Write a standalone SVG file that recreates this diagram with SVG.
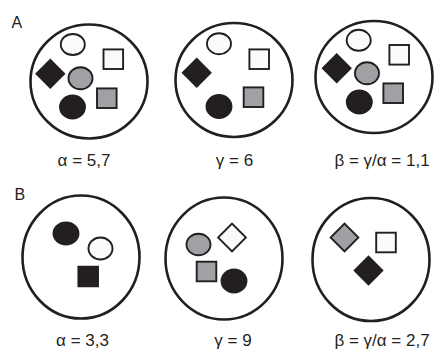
<svg xmlns="http://www.w3.org/2000/svg" xmlns:xlink="http://www.w3.org/1999/xlink" width="435" height="353" viewBox="0 0 435 353">
<style>
.bg{fill:#ffffff}
.ring{fill:#ffffff;stroke:#231f20;stroke-width:2.6}
.s{stroke:#231f20;stroke-width:1.9}
.k{fill:#231f20}
.g{fill:#a0a1a4}
.w{fill:#fbfbfb}
.lbl{font-family:"Liberation Sans",Arial,sans-serif;font-size:17px;fill:#231f20;text-anchor:middle}
.hd{font-family:"Liberation Sans",Arial,sans-serif;font-size:16px;fill:#231f20}
</style>
<defs>
<rect id="sq" x="-9.8" y="-9.8" width="19.6" height="19.6"/>
<rect id="dm" x="-9.8" y="-9.8" width="19.6" height="19.6" transform="rotate(45)"/>
</defs>
<rect class="bg" x="0" y="0" width="435" height="353"/>
<text class="hd" x="11.5" y="28">A</text>
<text class="hd" x="14.5" y="200">B</text>
<g id="connectors"/>
<g id="A1">
<ellipse class="ring" cx="89" cy="81.5" rx="58.5" ry="57"/>
<ellipse class="s w" cx="72.8" cy="44.5" rx="12" ry="10.5"/>
<use href="#sq" class="s w" x="113.3" y="59.2"/>
<use href="#dm" class="s k" x="50.3" y="73.7"/>
<ellipse class="s g" cx="80.5" cy="78.3" rx="12" ry="11"/>
<use href="#sq" class="s g" x="106.8" y="98.2"/>
<ellipse class="s k" cx="72.5" cy="107" rx="12.5" ry="11.5"/>
<text class="lbl" x="84" y="166">α = 5,7</text>
</g>
<g id="A2">
<ellipse class="ring" cx="234" cy="80" rx="58.5" ry="57"/>
<ellipse class="s w" cx="219" cy="43.7" rx="12" ry="10.5"/>
<use href="#sq" class="s w" x="259.2" y="59.2"/>
<use href="#dm" class="s k" x="196.7" y="72.7"/>
<use href="#sq" class="s g" x="253.5" y="97.2"/>
<ellipse class="s k" cx="219" cy="106.5" rx="12.5" ry="11.5"/>
<text class="lbl" x="234.5" y="166">γ = 6</text>
</g>
<g id="A3">
<ellipse class="ring" cx="374" cy="77" rx="58.5" ry="56"/>
<ellipse class="s w" cx="358.7" cy="40.3" rx="12" ry="10.5"/>
<use href="#sq" class="s w" x="399.2" y="54.8"/>
<use href="#dm" class="s k" x="336.7" y="68.3"/>
<ellipse class="s g" cx="367" cy="73.3" rx="12" ry="11"/>
<use href="#sq" class="s g" x="393.2" y="93.2"/>
<ellipse class="s k" cx="359.3" cy="102" rx="12.5" ry="11.5"/>
<text class="lbl" x="382" y="166">β = γ/α = 1,1</text>
</g>
<g id="B1">
<ellipse class="ring" cx="81" cy="257" rx="58.5" ry="61.5"/>
<ellipse class="s k" cx="66" cy="233.5" rx="12.5" ry="11"/>
<ellipse class="s w" cx="100.5" cy="248.5" rx="12" ry="11"/>
<use href="#sq" class="s k" x="88.2" y="276.5"/>
<text class="lbl" x="82.5" y="346">α = 3,3</text>
</g>
<g id="B2">
<ellipse class="ring" cx="224" cy="258.5" rx="58.5" ry="61"/>
<ellipse class="s g" cx="198.5" cy="244.5" rx="12" ry="10.8"/>
<use href="#dm" class="s w" x="232" y="237.5"/>
<use href="#sq" class="s g" x="206.5" y="271.5"/>
<ellipse class="s k" cx="234" cy="281" rx="12.5" ry="11.5"/>
<text class="lbl" x="233" y="346">γ = 9</text>
</g>
<g id="B3">
<ellipse class="ring" cx="371" cy="259.5" rx="58.5" ry="61.5"/>
<use href="#dm" class="s g" x="344.5" y="237.5"/>
<use href="#sq" class="s w" x="386" y="242.5"/>
<use href="#dm" class="s k" x="368.5" y="270.5"/>
<text class="lbl" x="382" y="346">β = γ/α = 2,7</text>
</g>
</svg>
